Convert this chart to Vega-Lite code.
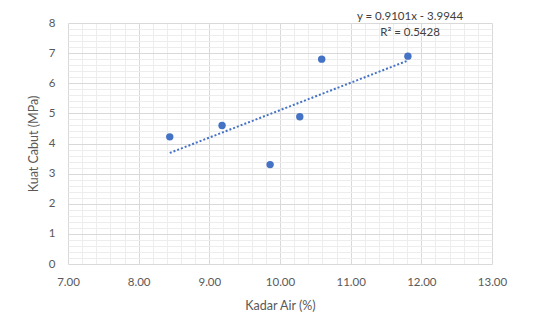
{
  "$schema": "https://vega.github.io/schema/vega-lite/v6.json",
  "width": 424,
  "height": 241,
  "autosize": {"type": "none"},
  "padding": {"left": 68, "top": 23, "right": 59, "bottom": 70},
  "background": "white",
  "config": {
    "view": {"stroke": null},
    "font": "Lato",
    "axis": {"labelFont": "Lato", "titleFont": "Lato", "labelColor": "#595959", "titleColor": "#595959", "labelFontSize": 11.5, "titleFontSize": 12.5, "titleFontWeight": "normal", "domain": false, "ticks": false}
  },
  "datasets": {
    "pts": [
      {"kadar": 8.44, "kuat": 4.22},
      {"kadar": 9.18, "kuat": 4.6},
      {"kadar": 9.86, "kuat": 3.3},
      {"kadar": 10.28, "kuat": 4.89},
      {"kadar": 10.59, "kuat": 6.8},
      {"kadar": 11.81, "kuat": 6.9}
    ],
    "trend": [
      {"kadar": 8.44, "kuat": 3.687},
      {"kadar": 11.81, "kuat": 6.754}
    ],
    "labels": [
      {"kadar": 11.84, "kuat": 8.2, "txt": "y = 0.9101x - 3.9944"},
      {"kadar": 11.84, "kuat": 7.67, "txt": "R² = 0.5428"}
    ]
  },
  "layer": [
    {
      "data": {"name": "pts"},
      "mark": {"type": "point", "filled": true, "opacity": 1, "color": "#4472c4", "size": 55},
      "encoding": {
        "x": {"field": "kadar", "type": "quantitative", "title": "Kadar Air (%)",
          "scale": {"domain": [7, 13], "nice": false, "zero": false},
          "axis": {
            "values": [7,7.2,7.4,7.6,7.8,8,8.2,8.4,8.6,8.8,9,9.2,9.4,9.6,9.8,10,10.2,10.4,10.6,10.8,11,11.2,11.4,11.6,11.8,12,12.2,12.4,12.6,12.8,13],
            "tickCount": 100,
            "labelExpr": "abs(datum.value - round(datum.value)) < 0.001 ? format(datum.value, '.2f') : ''",
            "labelOverlap": false, "labelBound": false,
            "gridColor": {"condition": {"test": "abs(datum.value - round(datum.value)) < 0.001", "value": "#d9d9d9"}, "value": "#ededed"},
            "labelPadding": 12, "titlePadding": 12, "labelFlush": false
          }
        },
        "y": {"field": "kuat", "type": "quantitative", "title": "Kuat Cabut (MPa)",
          "scale": {"domain": [0, 8], "nice": false},
          "axis": {
            "values": [0,0.2,0.4,0.6,0.8,1,1.2,1.4,1.6,1.8,2,2.2,2.4,2.6,2.8,3,3.2,3.4,3.6,3.8,4,4.2,4.4,4.6,4.8,5,5.2,5.4,5.6,5.8,6,6.2,6.4,6.6,6.8,7,7.2,7.4,7.6,7.8,8],
            "tickCount": 100,
            "labelExpr": "abs(datum.value - round(datum.value)) < 0.001 ? format(datum.value, 'd') : ''",
            "labelOverlap": false, "labelBound": false,
            "gridColor": {"condition": {"test": "abs(datum.value - round(datum.value)) < 0.001", "value": "#d9d9d9"}, "value": "#ededed"},
            "labelPadding": 13, "titlePadding": 8
          }
        }
      }
    },
    {
      "data": {"name": "trend"},
      "mark": {"type": "line", "color": "#4472c4", "strokeWidth": 2, "strokeDash": [2, 2]},
      "encoding": {
        "x": {"field": "kadar", "type": "quantitative"},
        "y": {"field": "kuat", "type": "quantitative"}
      }
    },
    {
      "data": {"name": "labels"},
      "mark": {"type": "text", "font": "Lato", "fontSize": 11.5, "color": "#404040", "align": "center", "baseline": "middle"},
      "encoding": {
        "x": {"field": "kadar", "type": "quantitative"},
        "y": {"field": "kuat", "type": "quantitative"},
        "text": {"field": "txt"}
      }
    }
  ]
}
